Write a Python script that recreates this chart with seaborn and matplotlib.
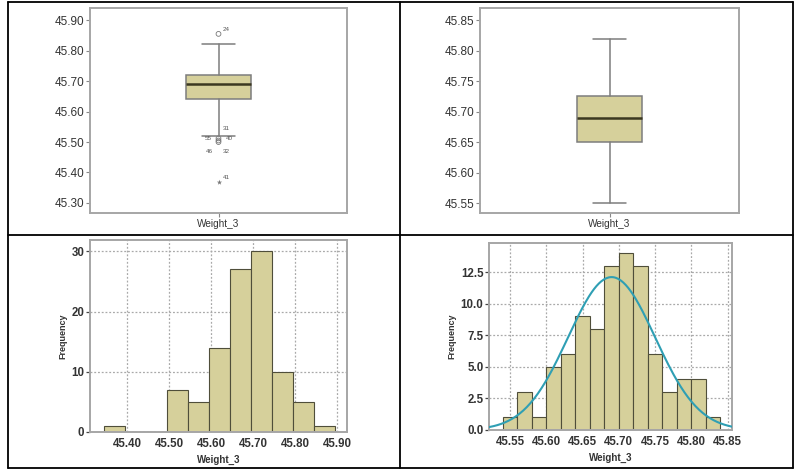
import numpy as np
import pandas as pd
import seaborn as sns
import matplotlib
matplotlib.use("Agg")
import matplotlib.pyplot as plt
from matplotlib.lines import Line2D

# ---- data ----
var_name = "Weight_3"

# box plot with outliers (top left)
box1 = {"q1": 45.641, "med": 45.692, "q3": 45.72, "whislo": 45.52, "whishi": 45.823}
box1_out = [45.855, 45.512, 45.505, 45.50]
box1_out_ids = ["24", "31", "55", "40", "46", "32"]
box1_extreme = [45.37]
box1_extreme_ids = ["41"]
box1_ticks = [45.30, 45.40, 45.50, 45.60, 45.70, 45.80, 45.90]

# box plot without outliers (top right)
box2 = {"q1": 45.65, "med": 45.69, "q3": 45.725, "whislo": 45.55, "whishi": 45.82}
box2_ticks = [45.55, 45.60, 45.65, 45.70, 45.75, 45.80, 45.85]

# histogram, all data (bottom left)
hist1_edges = [45.345, 45.395, 45.445, 45.495, 45.545, 45.595, 45.645,
               45.695, 45.745, 45.795, 45.845, 45.895]
hist1_counts = [1, 0, 0, 7, 5, 14, 27, 30, 10, 5, 1]
hist1_xticks = [45.40, 45.50, 45.60, 45.70, 45.80, 45.90]
hist1_yticks = [0, 10, 20, 30]

# histogram, outliers removed (bottom right) + normal fit
hist2_edges = [45.54, 45.56, 45.58, 45.60, 45.62, 45.64, 45.66, 45.68,
               45.70, 45.72, 45.74, 45.76, 45.78, 45.80, 45.82, 45.84]
hist2_counts = [1, 3, 1, 5, 6, 9, 8, 13, 14, 13, 6, 3, 4, 4, 1]
hist2_xticks = [45.55, 45.60, 45.65, 45.70, 45.75, 45.80, 45.85]
hist2_yticks = [0.0, 2.5, 5.0, 7.5, 10.0, 12.5]
fit_mean = 45.69
fit_sd = 0.06

# ---- style ----
sns.set_theme(style="white")
plt.rcParams["font.family"] = ["Liberation Sans", "DejaVu Sans"]

fill = "#d6d09b"
frame_col = "#a6a6a6"
box_edge = "#7d7d7d"
bar_edge = "#4f4e3a"
curve_col = "#2f9fb4"
grid_col = "#a9a9a9"

fig = plt.figure(figsize=(7.99, 4.71), dpi=100)
W, H = 799, 471


def place(x0, y0, x1, y1):
    return fig.add_axes([x0 / W, 1 - y1 / H, (x1 - x0) / W, (y1 - y0) / H])


def frame(ax):
    for s in ax.spines.values():
        s.set_visible(True)
        s.set_color(frame_col)
        s.set_linewidth(1.4)


def draw_box(ax, st, yticks, ylim):
    stats = [dict(st, fliers=[], label=var_name)]
    ax.bxp(stats, positions=[0], widths=0.25, patch_artist=True, showfliers=False,
           boxprops=dict(facecolor=fill, edgecolor=box_edge, linewidth=1.1),
           whiskerprops=dict(color=box_edge, linewidth=1.1),
           capprops=dict(color=box_edge, linewidth=1.1),
           medianprops=dict(color="#3b3820", linewidth=1.8),
           capwidths=0.13)
    ax.set_xlim(-0.5, 0.5)
    ax.set_ylim(*ylim)
    ax.set_yticks(yticks)
    ax.set_yticklabels([f"{t:.2f}" for t in yticks], fontsize=8.5)
    ax.set_xticks([0])
    ax.set_xticklabels([var_name], fontsize=7.2)
    ax.tick_params(axis="both", left=True, bottom=True, labelcolor="#333333",
                   length=3, width=0.8, direction="out", pad=1, color="#888888")
    frame(ax)


# top left
ax1 = place(90, 8, 347, 213)
draw_box(ax1, box1, box1_ticks, (45.267, 45.94))
sns.scatterplot(x=[0] * len(box1_out), y=box1_out, ax=ax1, marker="o",
                s=12, facecolor="none", edgecolor="#777777", linewidth=0.6)
sns.scatterplot(x=[0] * len(box1_extreme), y=box1_extreme, ax=ax1, marker="*",
                s=16, color="#777777", linewidth=0)
lab_kw = dict(fontsize=4.5, color="#555555", textcoords="offset points")
ax1.annotate(box1_out_ids[0], (0, box1_out[0]), xytext=(3, 2), **lab_kw)
ax1.annotate(box1_out_ids[1], (0, box1_out[1]), xytext=(3, 6), **lab_kw)
ax1.annotate(box1_out_ids[2], (0, box1_out[1]), xytext=(-10, -1), **lab_kw)
ax1.annotate(box1_out_ids[3], (0, box1_out[1]), xytext=(5, -1), **lab_kw)
ax1.annotate(box1_out_ids[4], (0, box1_out[3]), xytext=(-9, -8), **lab_kw)
ax1.annotate(box1_out_ids[5], (0, box1_out[3]), xytext=(3, -8), **lab_kw)
ax1.annotate(box1_extreme_ids[0], (0, box1_extreme[0]), xytext=(3, 2), **lab_kw)

# top right
ax2 = place(480, 8, 739, 213)
draw_box(ax2, box2, box2_ticks, (45.534, 45.87))


def draw_hist(ax, edges, counts, xticks, yticks, xlim, ylim, yfmt):
    centers = [(a + b) / 2 for a, b in zip(edges[:-1], edges[1:])]
    df = pd.DataFrame({"x": centers, "n": counts})
    sns.histplot(data=df, x="x", weights="n", bins=list(edges), ax=ax, color=fill,
                 edgecolor=bar_edge, linewidth=0.8, alpha=1, zorder=2)
    ax.set_xlim(*xlim)
    ax.set_ylim(*ylim)
    ax.set_xticks(xticks)
    ax.set_xticklabels([f"{t:.2f}" for t in xticks])
    ax.set_yticks(yticks)
    ax.set_yticklabels([yfmt.format(t) for t in yticks])
    ax.grid(True, color=grid_col, linestyle=(0, (1.5, 1.5)), linewidth=0.9, zorder=0)
    ax.set_axisbelow(True)
    ax.tick_params(axis="y", left=True, length=3, width=0.9, color="#444444",
                   direction="out", pad=1)
    ax.tick_params(axis="x", length=0, pad=4)
    for lab in ax.get_xticklabels() + ax.get_yticklabels():
        lab.set_fontweight("bold")
        lab.set_fontsize(8.3)
        lab.set_color("#333333")
    ax.set_xlabel(var_name, fontsize=7, fontweight="bold", color="#333333", labelpad=4)
    ax.set_ylabel("Frequency", fontsize=6.5, fontweight="bold", color="#333333", labelpad=3)
    frame(ax)


# bottom left
ax3 = place(90, 240, 347, 432)
draw_hist(ax3, hist1_edges, hist1_counts, hist1_xticks, hist1_yticks,
          (45.312, 45.924), (0, 31.9), "{:.0f}")

# bottom right
ax4 = place(489, 243, 732, 430)
draw_hist(ax4, hist2_edges, hist2_counts, hist2_xticks, hist2_yticks,
          (45.521, 45.856), (0, 14.8), "{:.1f}")
n_total = sum(hist2_counts)
bw = hist2_edges[1] - hist2_edges[0]
xs = np.linspace(45.521, 45.856, 200)
ys = n_total * bw / (fit_sd * np.sqrt(2 * np.pi)) * np.exp(-0.5 * ((xs - fit_mean) / fit_sd) ** 2)
sns.lineplot(x=xs, y=ys, ax=ax4, color=curve_col, linewidth=1.5, zorder=3)

# table borders around the four panels
for (x0, y0, x1, y1) in [(8, 1.5, 793, 1.5), (8, 468, 793, 468), (8, 1.5, 8, 468),
                         (793, 1.5, 793, 468), (400, 1.5, 400, 468), (8, 235, 793, 235)]:
    fig.add_artist(Line2D([x0 / W, x1 / W], [1 - y0 / H, 1 - y1 / H],
                          color="black", linewidth=1.3, transform=fig.transFigure))

fig.savefig("out.png", dpi=100)
